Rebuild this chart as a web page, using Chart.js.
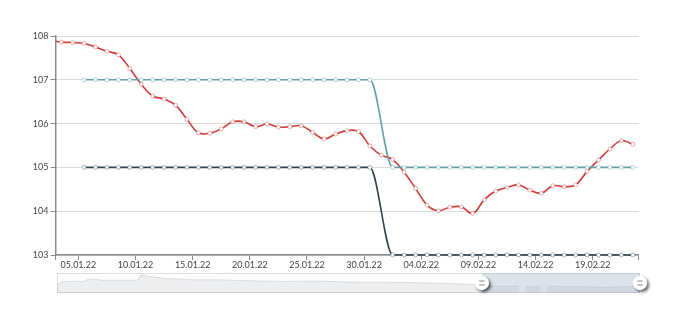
<!DOCTYPE html>
<html>
<head>
<meta charset="utf-8">
<script src="https://cdn.jsdelivr.net/npm/chart.js@4.4.1/dist/chart.umd.min.js"></script>
<style>
  html, body { margin: 0; padding: 0; background: #fff; }
  #wrap { position: relative; width: 680px; height: 309px; }
  #main { position: absolute; left: 0; top: 0; width: 680px; height: 309px; }
  #slider { position: absolute; left: 40px; top: 265px; width: 620px; height: 35px; }
</style>
</head>
<body>
<div id="wrap">
  <div id="main"><canvas id="mainChart"></canvas></div>
  <div id="slider"><canvas id="sliderChart"></canvas></div>
</div>
<script>
// === Data (one value per day, starting at firstDate) ===
const firstDate = '02.01.22';

const redValues = [
    107.90, 107.86, 107.85, 107.83, 107.75, 107.65, 107.57, 107.26, 106.90, 106.63,
    106.56, 106.42, 106.10, 105.79, 105.78, 105.88, 106.04, 106.04, 105.93, 105.99,
    105.92, 105.93, 105.95, 105.80, 105.65, 105.76, 105.84, 105.82, 105.49, 105.28,
    105.18, 104.89, 104.52, 104.14, 104.01, 104.09, 104.10, 103.95, 104.26, 104.46,
    104.54, 104.60, 104.48, 104.41, 104.58, 104.56, 104.60, 104.91, 105.17, 105.42,
    105.61, 105.53
];

const tealValues = [
    null, null, null, 107, 107, 107, 107, 107, 107, 107,
    107, 107, 107, 107, 107, 107, 107, 107, 107, 107,
    107, 107, 107, 107, 107, 107, 107, 107, 107, null,
    105, 105, 105, 105, 105, 105, 105, 105, 105, 105,
    105, 105, 105, 105, 105, 105, 105, 105, 105, 105,
    105, 105
];

const darkValues = [
    null, null, null, 105, 105, 105, 105, 105, 105, 105,
    105, 105, 105, 105, 105, 105, 105, 105, 105, 105,
    105, 105, 105, 105, 105, 105, 105, 105, 105, null,
    103, 103, 103, 103, 103, 103, 103, 103, 103, 103,
    103, 103, 103, 103, 103, 103, 103, 103, 103, 103,
    103, 103
];

const tickLabels = ['05.01.22', '10.01.22', '15.01.22', '20.01.22', '25.01.22',
                    '30.01.22', '04.02.22', '09.02.22', '14.02.22', '19.02.22'];

// visible window of the zoom slider
const viewFrom = '03.01.22';
const viewTo = '23.02.22';

// slider overview (day number relative to 01.01.22, relative level)
const shadowDays = [-135, -134, -133, -130, -127, -126, -125, -123, -121, -116,
                    -109, -108, -105, -100, -92, -83, -73, -62, -51, -41,
                    -31, -22, -12, -6, 1, 6, 14, 15, 16, 21,
                    22, 23, 34, 42, 51, 53];
const shadowLevels = [8.3, 10.3, 11.3, 12, 11.3, 12.3, 13.6, 14, 13, 13,
                      13, 18, 16.6, 14.6, 13.3, 13.3, 12.3, 11.6, 12, 11,
                      10.8, 10.6, 9.8, 9.3, 8.3, 6.6, 6.6, null, 6.3, 6.3,
                      null, 6.6, 6.3, 5.6, 6.6, 6.6];

// === Helpers ===
function dayOf(label) {
    const [d, m, y] = label.split('.').map(Number);
    return (Date.UTC(2000 + y, m - 1, d) - Date.UTC(2022, 0, 1)) / 86400000;
}

function seriesPoints(values) {
    const start = dayOf(firstDate) + 0.5; // values are taken at noon
    return values
        .map((v, k) => ({ x: start + k, y: v }))
        .filter(p => p.y !== null);
}

function lineStyle(color, markerColor) {
    return {
        borderColor: color,
        borderWidth: 1.6,
        pointRadius: 2,
        pointBorderWidth: 0.8,
        pointBackgroundColor: '#fff',
        pointBorderColor: markerColor,
        pointHoverRadius: 2
    };
}

Chart.defaults.font.family = 'Lato';
Chart.defaults.font.size = 9;
Chart.defaults.color = '#444';

// === Main chart ===
const axisColor = '#8a8a8a';

new Chart(document.getElementById('mainChart'), {
    type: 'line',
    data: {
        datasets: [
            {
                ...lineStyle('#61a0a8', 'rgba(97,160,168,0.55)'),
                data: seriesPoints(tealValues),
                cubicInterpolationMode: 'monotone',
                clip: false
            },
            {
                ...lineStyle('#2f4554', 'rgba(47,69,84,0.5)'),
                data: seriesPoints(darkValues),
                cubicInterpolationMode: 'monotone',
                clip: false
            },
            {
                ...lineStyle('#cf3d39', 'rgba(207,61,57,0.5)'),
                data: seriesPoints(redValues),
                tension: 0.4
            }
        ]
    },
    options: {
        responsive: true,
        maintainAspectRatio: false,
        animation: false,
        events: [],
        layout: { padding: { left: 0, top: 36, right: 41.5, bottom: 0 } },
        plugins: { legend: { display: false }, tooltip: { enabled: false } },
        scales: {
            x: {
                type: 'linear',
                min: dayOf(viewFrom),
                max: dayOf(viewTo),
                afterBuildTicks: scale => {
                    scale.ticks = [viewFrom, ...tickLabels, viewTo].map(l => ({ value: dayOf(l) }));
                },
                afterFit: scale => { scale.height = 54; },
                grid: { drawOnChartArea: false, drawTicks: true, tickLength: 5, tickColor: axisColor },
                border: { color: axisColor, width: 1.5 },
                ticks: {
                    autoSkip: false,
                    maxRotation: 0,
                    padding: 0,
                    callback: value => tickLabels.find(l => dayOf(l) === value) || ''
                }
            },
            y: {
                min: 103,
                max: 108,
                afterFit: scale => { scale.width = 55.5; },
                grid: { color: '#dcdcdc', tickColor: axisColor, tickLength: 5 },
                border: { color: axisColor, width: 1.5 },
                ticks: { stepSize: 1, padding: 2 }
            }
        }
    }
});

// === Zoom slider (overview) ===
const sliderDecor = {
    id: 'sliderDecor',
    beforeDatasetsDraw(chart) {
        const { ctx, chartArea: a } = chart;
        ctx.save();
        ctx.strokeStyle = '#ddd';
        ctx.lineWidth = 1;
        ctx.strokeRect(a.left + 0.5, a.top + 0.5, a.width - 1, a.height - 1);
        ctx.restore();
    },
    afterDatasetsDraw(chart) {
        const { ctx, chartArea: a, scales } = chart;
        const x0 = scales.x.getPixelForValue(dayOf(viewFrom));
        const x1 = scales.x.getPixelForValue(dayOf(viewTo));
        const cy = (a.top + a.bottom) / 2;

        ctx.save();
        ctx.fillStyle = 'rgba(167,183,204,0.4)';
        ctx.fillRect(x0, a.top, x1 - x0, a.height);

        [x0, x1].forEach(hx => {
            ctx.save();
            ctx.shadowColor = 'rgba(0,0,0,0.6)';
            ctx.shadowBlur = 3;
            ctx.shadowOffsetX = 2;
            ctx.shadowOffsetY = 2;
            ctx.fillStyle = '#fff';
            ctx.beginPath();
            ctx.arc(hx, cy, 7.2, 0, Math.PI * 2);
            ctx.fill();
            ctx.restore();

            ctx.fillStyle = 'rgba(0,0,0,0.45)';
            ctx.fillRect(hx - 2.7, cy - 2.5, 5.4, 1.1);
            ctx.fillRect(hx - 2.7, cy + 1.4, 5.4, 1.1);
        });
        ctx.restore();
    }
};

new Chart(document.getElementById('sliderChart'), {
    type: 'line',
    data: {
        datasets: [{
            data: shadowDays.map((d, i) => ({ x: d, y: shadowLevels[i] })),
            borderColor: 'rgba(47,69,84,0.3)',
            borderWidth: 0.5,
            backgroundColor: 'rgba(47,69,84,0.09)',
            fill: 'origin',
            pointRadius: 0,
            tension: 0,
            spanGaps: false
        }]
    },
    options: {
        responsive: true,
        maintainAspectRatio: false,
        animation: false,
        events: [],
        layout: { padding: { left: 17, top: 8, right: 20, bottom: 7 } },
        plugins: { legend: { display: false }, tooltip: { enabled: false } },
        scales: {
            x: { type: 'linear', display: false, min: shadowDays[0], max: dayOf(viewTo) },
            y: { display: false, min: 0, max: 20 }
        }
    },
    plugins: [sliderDecor]
});
</script>
</body>
</html>
